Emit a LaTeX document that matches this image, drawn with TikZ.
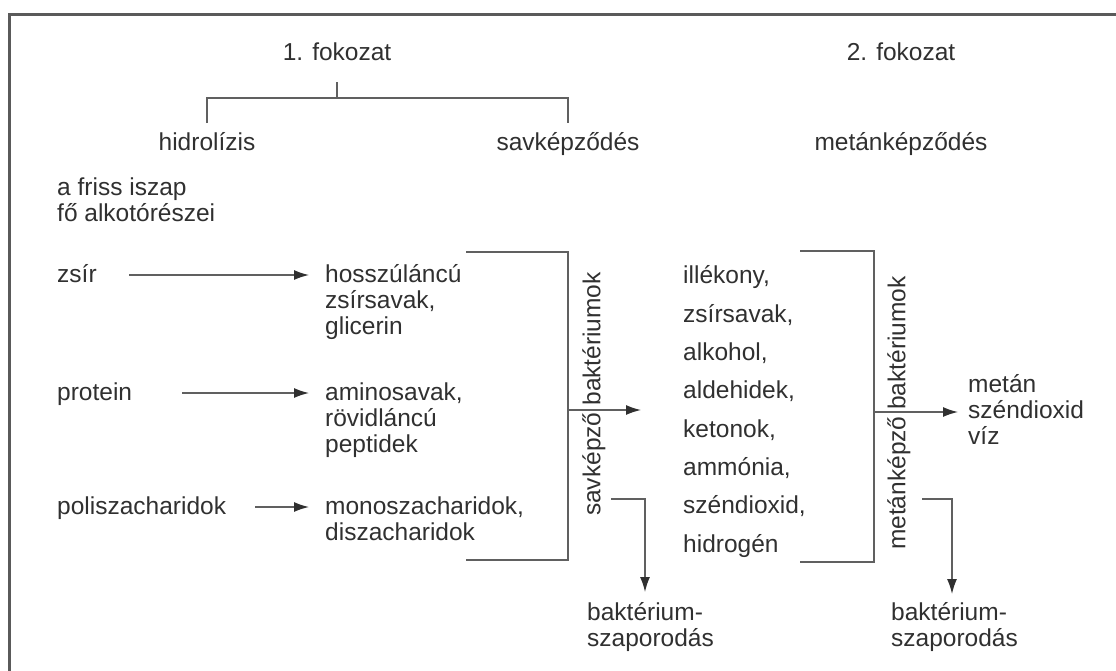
\documentclass[tikz,border=0pt]{standalone}
\usepackage{fontspec}
\setmainfont{Liberation Sans}
\usetikzlibrary{arrows.meta}

\definecolor{txtgray}{HTML}{303030}
\definecolor{lngray}{HTML}{606060}
\definecolor{framegray}{HTML}{5A5A5A}

\begin{document}
\begin{tikzpicture}[x=1pt,y=-1pt,
    every node/.style={inner sep=0pt,text=txtgray,
      font=\fontsize{24.5}{26}\selectfont},
    lbl/.style={anchor=base west,align=left},% base = last line
    ttl/.style={anchor=base},
    vert/.style={rotate=90},
    ln/.style={draw=lngray,line width=1.4pt},
    arr/.style={ln,-{Latex[length=15pt,width=10pt,color=txtgray]}}
  ]
  \useasboundingbox (0,0) rectangle (1116,670);

  % frame, only top and left edge
  \draw[framegray,line width=3pt] (1120,14) -- (9,14) -- (9,672);

  % headings
  \node[ttl] (fok1) at (337,60) {1. fokozat};
  \node[ttl] (fok2) at (901,60) {2. fokozat};
  \node[ttl] (hidr) at (207,150) {hidrolízis};
  \node[ttl] (savk) at (568,150) {savképződés};
  \node[ttl] (metk) at (901,150) {metánképződés};

  \draw[ln] (337,82) -- (337,98);
  \draw[ln] (207,123) |- (568,98) -- (568,123);

  % raw sludge
  \node[lbl] (iszap) at (57,221) {a friss iszap\\fő alkotórészei};

  \node[lbl] (zsir) at (57,282) {zsír};
  \node[lbl] (prot) at (57,400) {protein};
  \node[lbl] (poli) at (57,514) {poliszacharidok};

  \node[lbl] (hossz) at (325,334) {hosszúláncú\\zsírsavak,\\glicerin};
  \node[lbl] (amino) at (325,452) {aminosavak,\\rövidláncú\\peptidek};
  \node[lbl] (mono)  at (325,540) {monoszacharidok,\\diszacharidok};

  \coordinate (zsirA) at (129,275);  \coordinate (zsirB) at (309,275);
  \coordinate (protA) at (182,393);  \coordinate (protB) at (309,393);
  \coordinate (poliA) at (255,507);  \coordinate (poliB) at (309,507);
  \draw[arr] (zsirA) -- (zsirB);
  \draw[arr] (protA) -- (protB);
  \draw[arr] (poliA) -- (poliB);

  % acid forming stage
  \draw[ln] (466,252) -| (568,560) -- (466,560);
  \node[vert] (savb) at (594,394) {savképző baktériumok};
  \coordinate (sav1) at (568,410);  \coordinate (sav2) at (641,410);
  \draw[arr] (sav1) -- (sav2);

  \coordinate (sza1) at (611,499);  \coordinate (sza2) at (645,592);
  \draw[arr] (sza1) -| (sza2);
  \node[lbl] (szap1) at (587,646) {baktérium-\\szaporodás};

  \node[lbl,font=\fontsize{24.5}{38.3}\selectfont] (prod) at (683,552)
    {illékony,\\zsírsavak,\\alkohol,\\aldehidek,\\ketonok,\\ammónia,\\széndioxid,\\hidrogén};

  % methane forming stage
  \draw[ln] (800,251) -| (874,562) -- (800,562);
  \node[vert] (metb) at (899,413) {metánképző baktériumok};
  \coordinate (met1) at (874,412);  \coordinate (met2) at (958,412);
  \draw[arr] (met1) -- (met2);

  \coordinate (szb1) at (922,499);  \coordinate (szb2) at (952,594);
  \draw[arr] (szb1) -| (szb2);
  \node[lbl] (szap2) at (891,646) {baktérium-\\szaporodás};

  \node[lbl] (vegt) at (968,444) {metán\\széndioxid\\víz};
\end{tikzpicture}
\end{document}
